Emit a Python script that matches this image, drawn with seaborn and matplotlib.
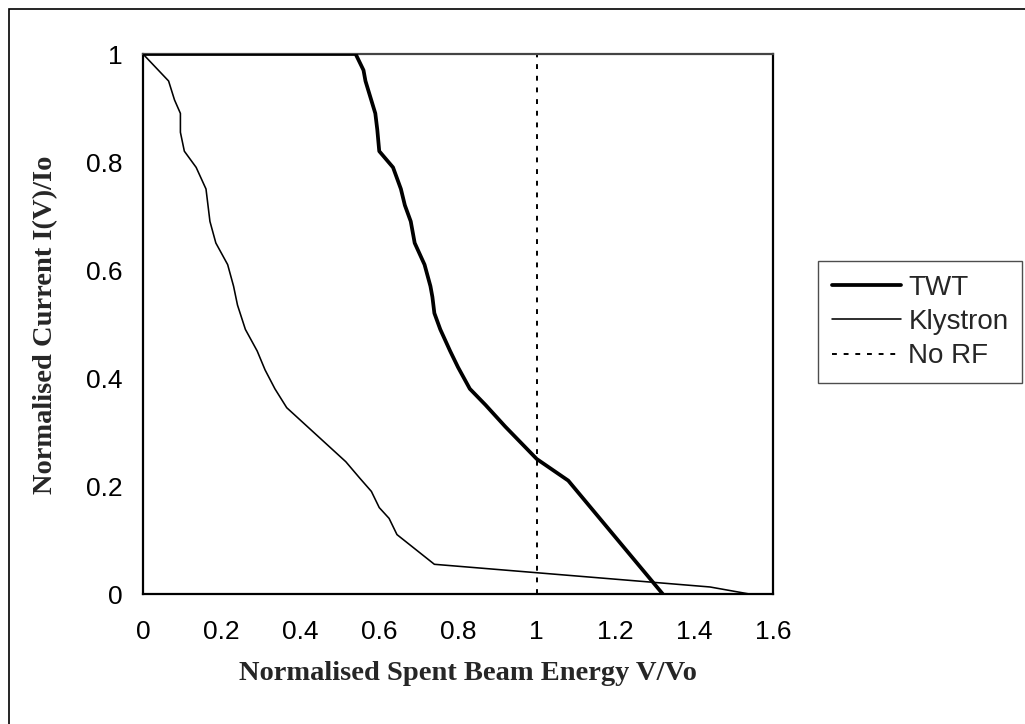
import matplotlib
matplotlib.use("Agg")
import matplotlib.pyplot as plt
import seaborn as sns
import pandas as pd
from matplotlib.patches import Rectangle

# ---- data ----
twt_x = [0.0, 0.54, 0.56, 0.565, 0.59, 0.595, 0.60, 0.635, 0.655, 0.665, 0.68, 0.69,
         0.715, 0.73, 0.735, 0.74, 0.755, 0.78, 0.80, 0.83, 0.87, 0.92, 1.0, 1.08, 1.32]
twt_y = [1.0, 1.0, 0.97, 0.95, 0.89, 0.86, 0.82, 0.79, 0.75, 0.72, 0.69, 0.65,
         0.61, 0.57, 0.55, 0.52, 0.49, 0.45, 0.42, 0.38, 0.35, 0.31, 0.25, 0.21, 0.0]

kly_x = [0.0, 0.065, 0.08, 0.095, 0.095, 0.105, 0.135, 0.16, 0.17, 0.185, 0.215, 0.23,
         0.24, 0.26, 0.29, 0.31, 0.335, 0.365, 0.455, 0.515, 0.55, 0.58, 0.60, 0.625,
         0.645, 0.74, 1.44, 1.54]
kly_y = [1.0, 0.95, 0.915, 0.89, 0.855, 0.82, 0.79, 0.75, 0.69, 0.65, 0.61, 0.57,
         0.535, 0.49, 0.45, 0.415, 0.38, 0.345, 0.285, 0.245, 0.215, 0.19, 0.16, 0.14,
         0.11, 0.055, 0.013, 0.0]

norf_x = [1.0, 1.0]
norf_y = [0.0, 1.0]

x_ticks = [0, 0.2, 0.4, 0.6, 0.8, 1.0, 1.2, 1.4, 1.6]
x_tick_labels = ["0", "0.2", "0.4", "0.6", "0.8", "1", "1.2", "1.4", "1.6"]
y_ticks = [0, 0.2, 0.4, 0.6, 0.8, 1.0]
y_tick_labels = ["0", "0.2", "0.4", "0.6", "0.8", "1"]

sns.set_style("white")
plt.rcParams["font.family"] = ["Liberation Sans", "DejaVu Sans"]

fig = plt.figure(figsize=(10.25, 7.24), dpi=100)
ax = fig.add_axes([143 / 1025, 1 - 594 / 724, 630 / 1025, 540 / 724])

sns.lineplot(x=twt_x, y=twt_y, sort=False, estimator=None, ax=ax,
             color="black", linewidth=2.7, label="TWT", zorder=3)
sns.lineplot(x=kly_x, y=kly_y, sort=False, estimator=None, ax=ax,
             color="black", linewidth=1.15, label="Klystron", zorder=3)
sns.lineplot(x=norf_x, y=norf_y, sort=False, estimator=None, ax=ax,
             color="black", linewidth=1.4, label="No RF", zorder=2)
ax.lines[-1].set_dashes((2.5, 3.5))

ax.set_xlim(0, 1.6)
ax.set_ylim(0, 1)
ax.set_xticks(x_ticks)
ax.set_xticklabels(x_tick_labels)
ax.set_yticks(y_ticks)
ax.set_yticklabels(y_tick_labels)
ax.tick_params(axis="both", which="major", direction="out", length=6, width=1,
               color="#555555", labelsize=19, labelcolor="black")
ax.tick_params(axis="y", pad=9)
ax.tick_params(axis="x", pad=13)
for s in ax.spines.values():
    s.set_visible(True)
    s.set_color("black")
    s.set_linewidth(1.6)
ax.spines["top"].set_color("#444444")

ax.set_xlabel("Normalised Spent Beam Energy V/Vo", fontfamily="Liberation Serif",
              fontweight="bold", fontsize=20.5)
ax.set_ylabel("Normalised Current I(V)/Io", fontfamily="Liberation Serif",
              fontweight="bold", fontsize=20.5)
ax.xaxis.set_label_coords((468 - 143) / 630, (594 - 673) / 540)
ax.xaxis.label.set_va("center")
ax.yaxis.set_label_coords((46 - 143) / 630, (594 - 325) / 540)
ax.yaxis.label.set_va("center")

leg = ax.legend(loc="center left", bbox_to_anchor=(818 / 1025, 1 - 322 / 724),
                bbox_transform=fig.transFigure, frameon=True, fancybox=False,
                fontsize=20, handlelength=2.5, handletextpad=0.25,
                labelspacing=0.3, borderpad=0.5, borderaxespad=0)
leg.get_frame().set_edgecolor("#222222")
leg.get_frame().set_linewidth(1.0)

# outer chart border
fig.patches.append(Rectangle((9 / 1025, -0.01), 1.02, 1 - 9 / 724 + 0.01,
                             transform=fig.transFigure, fill=False,
                             edgecolor="black", linewidth=1.2))

fig.savefig("out.png", dpi=100, facecolor="white")
